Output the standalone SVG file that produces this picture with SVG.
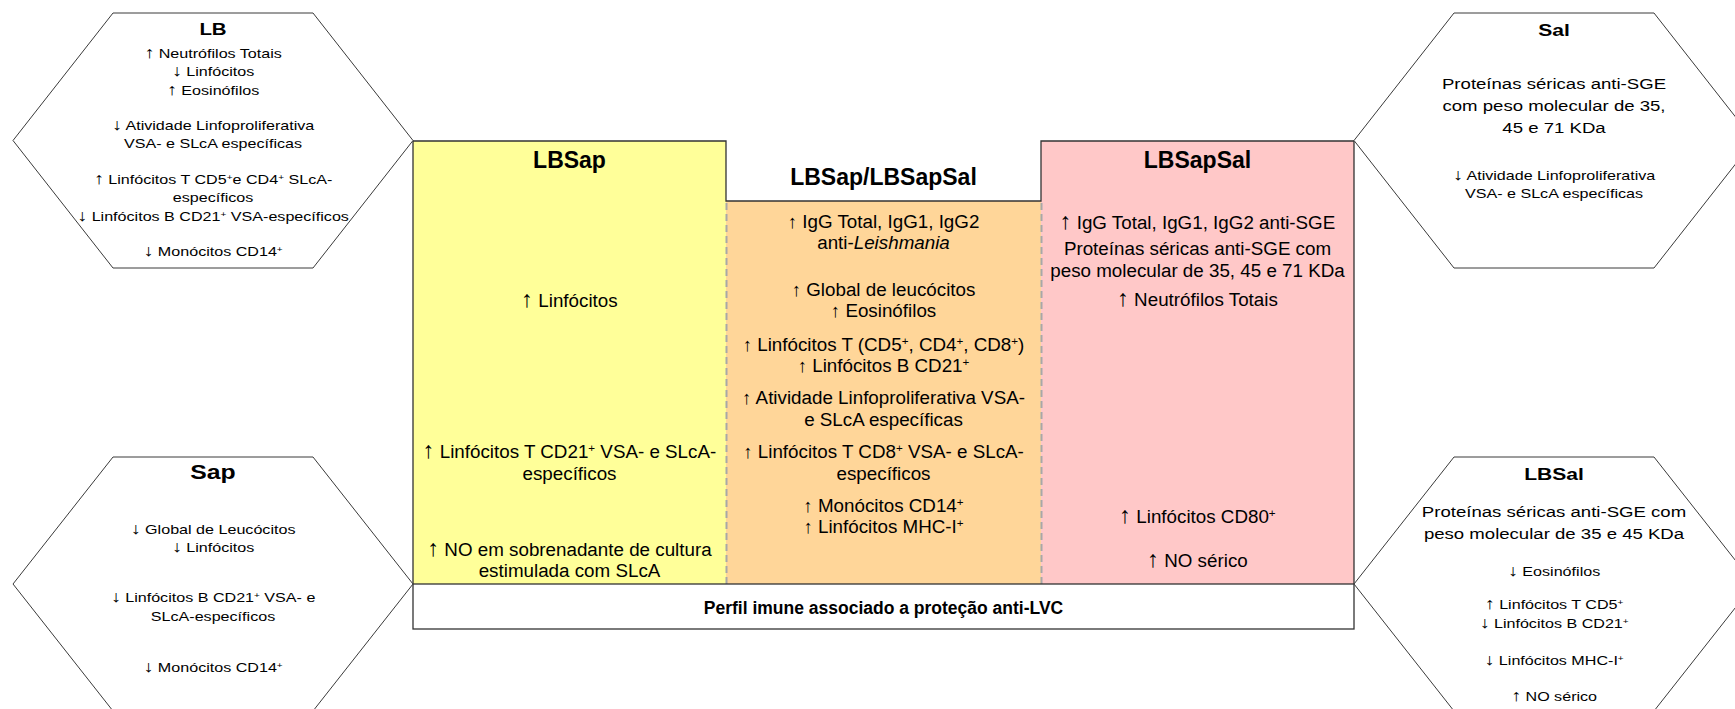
<svg xmlns="http://www.w3.org/2000/svg" width="1735" height="709" viewBox="0 0 1735 709">
<style>
text { font-family: "Liberation Sans", Arial, Helvetica, sans-serif; fill: #000; text-anchor: middle; }
.hx { fill: #fff; stroke: #3a3a3a; stroke-width: 1; }
.h13 { font-size: 13px; }
.h15 { font-size: 15px; }
.ht { font-weight: bold; }
.b { font-size: 18.8px; }
.tt { font-size: 23px; font-weight: bold; }
.ft { font-size: 17.5px; font-weight: bold; }
.sup { baseline-shift: super; font-size: 62%; }
.ar { font-size: 125%; }
.edge { fill: none; stroke: #333; stroke-width: 1.3; }
.dash { fill: none; stroke: #a8a8a8; stroke-width: 2; stroke-dasharray: 7 4; }
</style>

<g id="panel-LBSap">
  <rect x="413" y="141" width="313" height="443" fill="#ffff99"/>
  <text class="tt" x="569.5" y="168">LBSap</text>
  <text class="b" x="569.5" y="307"><tspan class="ar">↑</tspan> Linfócitos</text>
  <text class="b" x="569.5" y="458"><tspan class="ar">↑</tspan> Linfócitos T CD21<tspan class="sup">+</tspan> VSA- e SLcA-</text>
  <text class="b" x="569.5" y="480">específicos</text>
  <text class="b" x="569.5" y="556"><tspan class="ar">↑</tspan> NO em sobrenadante de cultura</text>
  <text class="b" x="569.5" y="577">estimulada com SLcA</text>
</g>

<g id="panel-shared">
  <rect x="726" y="201" width="315" height="383" fill="#ffd699"/>
  <text class="tt" x="883.5" y="185">LBSap/LBSapSal</text>
  <text class="b" x="883.5" y="228">↑ IgG Total, IgG1, IgG2</text>
  <text class="b" x="883.5" y="249">anti-<tspan font-style="italic">Leishmania</tspan></text>
  <text class="b" x="883.5" y="296">↑ Global de leucócitos</text>
  <text class="b" x="883.5" y="317">↑ Eosinófilos</text>
  <text class="b" x="883.5" y="351">↑ Linfócitos T (CD5<tspan class="sup">+</tspan>, CD4<tspan class="sup">+</tspan>, CD8<tspan class="sup">+</tspan>)</text>
  <text class="b" x="883.5" y="372">↑ Linfócitos B CD21<tspan class="sup">+</tspan></text>
  <text class="b" x="883.5" y="404">↑ Atividade Linfoproliferativa VSA-</text>
  <text class="b" x="883.5" y="426">e SLcA específicas</text>
  <text class="b" x="883.5" y="458">↑ Linfócitos T CD8<tspan class="sup">+</tspan> VSA- e SLcA-</text>
  <text class="b" x="883.5" y="480">específicos</text>
  <text class="b" x="883.5" y="512">↑ Monócitos CD14<tspan class="sup">+</tspan></text>
  <text class="b" x="883.5" y="533">↑ Linfócitos MHC-I<tspan class="sup">+</tspan></text>
</g>

<g id="panel-LBSapSal">
  <rect x="1041" y="141" width="313" height="443" fill="#ffc8c8"/>
  <text class="tt" x="1197.5" y="168">LBSapSal</text>
  <text class="b" x="1197.5" y="229"><tspan class="ar">↑</tspan> IgG Total, IgG1, IgG2 anti-SGE</text>
  <text class="b" x="1197.5" y="255">Proteínas séricas anti-SGE com</text>
  <text class="b" x="1197.5" y="277">peso molecular de 35, 45 e 71 KDa</text>
  <text class="b" x="1197.5" y="306"><tspan class="ar">↑</tspan> Neutrófilos Totais</text>
  <text class="b" x="1197.5" y="523"><tspan class="ar">↑</tspan> Linfócitos CD80<tspan class="sup">+</tspan></text>
  <text class="b" x="1197.5" y="567"><tspan class="ar">↑</tspan> NO sérico</text>
</g>

<g id="panel-outline">
  <path class="dash" d="M726.5 203 V584 M1041.5 203 V584"/>
  <path class="edge" d="M413 584 V141 H726 V201 H1041 V141 H1354 V584"/>
</g>

<g id="footer">
  <rect x="413" y="584" width="941" height="45" fill="#fff" stroke="#333" stroke-width="1.3"/>
  <text class="ft" x="883.5" y="614">Perfil imune associado a proteção anti-LVC</text>
</g>

<g id="hex-LB">
  <polygon class="hx" points="113,13 313,13 413,140.5 313,268 113,268 13,140.5"/>
  <g transform="translate(213,0) scale(1.24,1)">
    <text class="ht" x="0" y="35" font-size="16.5">LB</text>
    <text class="h13" x="0" y="58"><tspan class="ar">↑</tspan> Neutrófilos Totais</text>
    <text class="h13" x="0" y="76.5"><tspan class="ar">↓</tspan> Linfócitos</text>
    <text class="h13" x="0" y="95"><tspan class="ar">↑</tspan> Eosinófilos</text>
    <text class="h13" x="0" y="130"><tspan class="ar">↓</tspan> Atividade Linfoproliferativa</text>
    <text class="h13" x="0" y="148.5">VSA- e SLcA específicas</text>
    <text class="h13" x="0" y="184"><tspan class="ar">↑</tspan> Linfócitos T CD5<tspan class="sup">+</tspan>e CD4<tspan class="sup">+</tspan> SLcA-</text>
    <text class="h13" x="0" y="202.5">específicos</text>
    <text class="h13" x="0" y="221"><tspan class="ar">↓</tspan> Linfócitos B CD21<tspan class="sup">+</tspan> VSA-específicos</text>
    <text class="h13" x="0" y="256"><tspan class="ar">↓</tspan> Monócitos CD14<tspan class="sup">+</tspan></text>
  </g>
</g>

<g id="hex-Sap">
  <polygon class="hx" points="113,457 313,457 413,584 313,711 113,711 13,584"/>
  <g transform="translate(213,0) scale(1.24,1)">
    <text class="ht" x="0" y="479" font-size="20">Sap</text>
    <text class="h13" x="0" y="534"><tspan class="ar">↓</tspan> Global de Leucócitos</text>
    <text class="h13" x="0" y="552"><tspan class="ar">↓</tspan> Linfócitos</text>
    <text class="h13" x="0" y="602"><tspan class="ar">↓</tspan> Linfócitos B CD21<tspan class="sup">+</tspan> VSA- e</text>
    <text class="h13" x="0" y="621">SLcA-específicos</text>
    <text class="h13" x="0" y="672"><tspan class="ar">↓</tspan> Monócitos CD14<tspan class="sup">+</tspan></text>
  </g>
</g>

<g id="hex-Sal">
  <polygon class="hx" points="1454,13 1654,13 1754,140.5 1654,268 1454,268 1354,140.5"/>
  <g transform="translate(1554,0) scale(1.24,1)">
    <text class="ht" x="0" y="36" font-size="17">Sal</text>
    <text class="h15" x="0" y="89">Proteínas séricas anti-SGE</text>
    <text class="h15" x="0" y="111">com peso molecular de 35,</text>
    <text class="h15" x="0" y="133">45 e 71 KDa</text>
    <text class="h13" x="0" y="180"><tspan class="ar">↓</tspan> Atividade Linfoproliferativa</text>
    <text class="h13" x="0" y="198.5">VSA- e SLcA específicas</text>
  </g>
</g>

<g id="hex-LBSal">
  <polygon class="hx" points="1454,457 1654,457 1754,584 1654,711 1454,711 1354,584"/>
  <g transform="translate(1554,0) scale(1.24,1)">
    <text class="ht" x="0" y="480" font-size="17">LBSal</text>
    <text class="h15" x="0" y="517">Proteínas séricas anti-SGE com</text>
    <text class="h15" x="0" y="539.5">peso molecular de 35 e 45 KDa</text>
    <text class="h13" x="0" y="576.5"><tspan class="ar">↓</tspan> Eosinófilos</text>
    <text class="h13" x="0" y="609"><tspan class="ar">↑</tspan> Linfócitos T CD5<tspan class="sup">+</tspan></text>
    <text class="h13" x="0" y="628"><tspan class="ar">↓</tspan> Linfócitos B CD21<tspan class="sup">+</tspan></text>
    <text class="h13" x="0" y="665"><tspan class="ar">↓</tspan> Linfócitos MHC-I<tspan class="sup">+</tspan></text>
    <text class="h13" x="0" y="701"><tspan class="ar">↑</tspan> NO sérico</text>
  </g>
</g>
</svg>
